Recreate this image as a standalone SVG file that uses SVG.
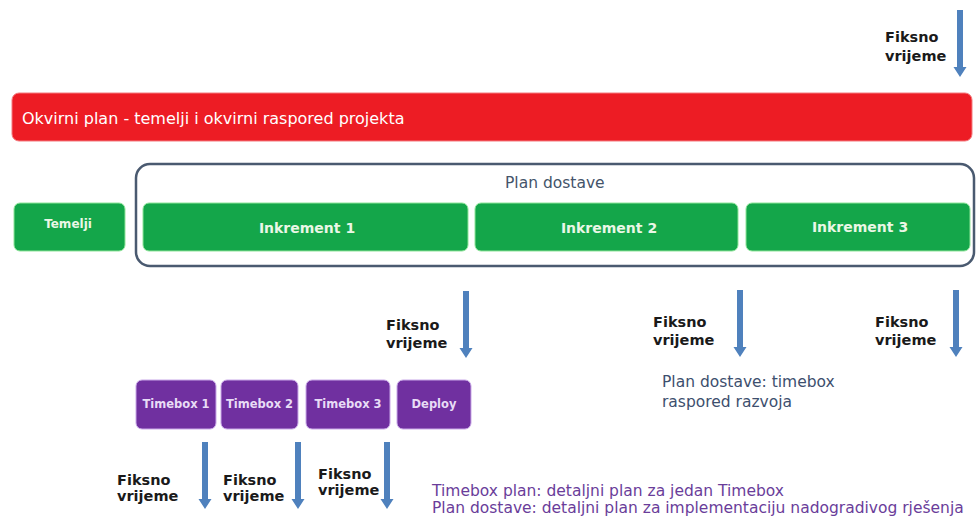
<svg xmlns="http://www.w3.org/2000/svg" width="980" height="528" viewBox="0 0 980 528">
<style>
.fk{font-family:"DejaVu Sans",Verdana,sans-serif;font-weight:bold;font-size:14.5px;fill:#1a1a1a}
.grn{fill:#14a64a;stroke:#8fe59a;stroke-width:1}
.gt{font-family:"DejaVu Sans",Verdana,sans-serif;font-weight:bold;fill:#eaf7e6;text-anchor:middle}
.pur{fill:#7030a0;stroke:#c9a8e8;stroke-width:1}
.pt{font-family:"DejaVu Sans",Verdana,sans-serif;font-weight:bold;font-size:11.5px;fill:#e8dcf6;text-anchor:middle}
.note{font-family:"DejaVu Sans",Verdana,sans-serif;font-size:15.5px}
</style>
<defs>
<path id="arr" d="M-3,0 H3 V57 H6.5 L0,67 L-6.5,57 H-3 Z" fill="#4f81bd"/>
</defs>
<rect width="980" height="528" fill="#ffffff"/>

<g id="okvirni-plan">
<rect x="12" y="93" width="960" height="48" rx="7" fill="#ed1c24" stroke="#f47a7e" stroke-width="1"/>
<text x="22" y="124" style="font-family:'DejaVu Sans',Verdana,sans-serif;font-size:16px;fill:#ffffff">Okvirni plan - temelji i okvirni raspored projekta</text>
</g>

<g id="plan-dostave">
<rect x="136" y="164" width="838" height="102" rx="14" fill="#ffffff" stroke="#4a5a70" stroke-width="2.5"/>
<text x="505" y="188" style="font-family:'DejaVu Sans',Verdana,sans-serif;font-size:15.5px;fill:#44546a">Plan dostave</text>
</g>

<g id="temelji">
<rect class="grn" x="14" y="203" width="111" height="48" rx="6"/>
<text class="gt" x="68" y="228" style="font-size:12px">Temelji</text>
</g>
<g id="inkrement-1">
<rect class="grn" x="143" y="203" width="325" height="48" rx="6"/>
<text class="gt" x="307" y="233" style="font-size:14px">Inkrement 1</text>
</g>
<g id="inkrement-2">
<rect class="grn" x="475" y="203" width="263" height="48" rx="6"/>
<text class="gt" x="609" y="233" style="font-size:14px">Inkrement 2</text>
</g>
<g id="inkrement-3">
<rect class="grn" x="746" y="203" width="224" height="48" rx="6"/>
<text class="gt" x="860" y="232" style="font-size:14px">Inkrement 3</text>
</g>

<g id="timebox-1">
<rect class="pur" x="136" y="380" width="80" height="49" rx="6"/>
<text class="pt" x="176" y="408">Timebox 1</text>
</g>
<g id="timebox-2">
<rect class="pur" x="221" y="380" width="77" height="49" rx="6"/>
<text class="pt" x="259.5" y="408">Timebox 2</text>
</g>
<g id="timebox-3">
<rect class="pur" x="306" y="380" width="84" height="49" rx="6"/>
<text class="pt" x="348" y="408">Timebox 3</text>
</g>
<g id="deploy">
<rect class="pur" x="397" y="380" width="74" height="49" rx="6"/>
<text class="pt" x="434" y="408">Deploy</text>
</g>

<g id="connectors">
<use href="#arr" x="960" y="10"/>
<use href="#arr" x="466" y="291"/>
<use href="#arr" x="740" y="290"/>
<use href="#arr" x="956" y="290"/>
<use href="#arr" x="205" y="442"/>
<use href="#arr" x="298" y="442"/>
<use href="#arr" x="387" y="442"/>
</g>

<g id="labels">
<text class="fk" x="885" y="42">Fiksno</text>
<text class="fk" x="885" y="61">vrijeme</text>
<text class="fk" x="386" y="330">Fiksno</text>
<text class="fk" x="386" y="348">vrijeme</text>
<text class="fk" x="653" y="327">Fiksno</text>
<text class="fk" x="653" y="345">vrijeme</text>
<text class="fk" x="875" y="327">Fiksno</text>
<text class="fk" x="875" y="345">vrijeme</text>
<text class="fk" x="117" y="485">Fiksno</text>
<text class="fk" x="117" y="501">vrijeme</text>
<text class="fk" x="223" y="485">Fiksno</text>
<text class="fk" x="223" y="501">vrijeme</text>
<text class="fk" x="318" y="479">Fiksno</text>
<text class="fk" x="318" y="495">vrijeme</text>
</g>

<g id="notes">
<text class="note" x="662" y="387" fill="#3d4f6e">Plan dostave: timebox</text>
<text class="note" x="662" y="407" fill="#3d4f6e">raspored razvoja</text>
<text class="note" x="432" y="496" fill="#6a3d9a">Timebox plan: detaljni plan za jedan Timebox</text>
<text class="note" x="432" y="513" fill="#6a3d9a">Plan dostave: detaljni plan za implementaciju nadogradivog rješenja</text>
</g>
</svg>
